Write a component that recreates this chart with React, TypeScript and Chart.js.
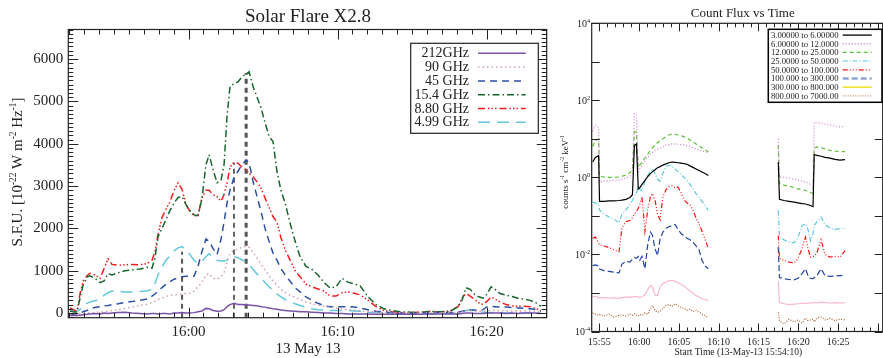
import React, { useEffect, useRef } from 'react';
import { Chart, registerables } from 'chart.js';
Chart.register(...registerables);

const SERIF = '"Liberation Serif", "DejaVu Serif", "Times New Roman", serif';
const INK = '#222';

// ---------------- Left panel: radio flux (S.F.U.) ----------------
const radioTitle = 'Solar Flare X2.8';
const radioDateLabel = '13 May 13';
const radioXRange = ['15:51:56', '16:24:02'];
const radioYRange = [-110, 6700];
const radioXTicks = ['16:00', '16:10', '16:20'];
const radioYTicks = [0, 1000, 2000, 3000, 4000, 5000, 6000];

const radioTimes = [
  '15:52:03', '15:52:15', '15:52:31', '15:52:43', '15:52:55', '15:53:11', '15:53:23', '15:53:43', '15:54:04', '15:54:20',
  '15:54:36', '15:54:52', '15:55:16', '15:55:44', '15:56:12', '15:56:45', '15:57:13', '15:57:33', '15:57:45', '15:57:57',
  '15:58:13', '15:58:29', '15:58:45', '15:59:02', '15:59:18', '15:59:34', '15:59:50', '16:00:06', '16:00:22', '16:00:38',
  '16:00:54', '16:01:10', '16:01:23', '16:01:39', '16:01:55', '16:02:11', '16:02:23', '16:02:35', '16:02:47', '16:03:03',
  '16:03:19', '16:03:35', '16:03:52', '16:04:04', '16:04:20', '16:04:36', '16:04:52', '16:05:08', '16:05:24', '16:05:40',
  '16:05:56', '16:06:12', '16:06:29', '16:06:49', '16:07:09', '16:07:29', '16:07:53', '16:08:17', '16:08:41', '16:09:06',
  '16:09:30', '16:09:54', '16:10:18', '16:10:42', '16:11:06', '16:11:31', '16:12:03', '16:12:35', '16:13:07', '16:13:39',
  '16:14:12', '16:14:52', '16:15:32', '16:16:12', '16:16:53', '16:17:33', '16:18:05', '16:18:21', '16:18:37', '16:18:54',
  '16:19:10', '16:19:26', '16:19:46', '16:20:02', '16:20:18', '16:20:34', '16:20:54', '16:21:19', '16:21:43', '16:22:07',
  '16:22:31', '16:22:55', '16:23:19', '16:23:39',
];

const flux212GHz = [
  -60, -50, -60, -50, -40, -30, -20, -10, -20, 0,
  -10, 0, 10, 20, 0, -10, -20, -10, -10, -20,
  -10, -10, -20, 0, 0, 10, 0, 0, 10, 30,
  50, 110, 100, 60, 40, 50, 80, 150, 200, 230,
  200, 200, 190, 190, 180, 170, 150, 140, 120, 100,
  90, 70, 60, 50, 40, 30, 30, 20, 10, 0,
  0, -10, -10, -20, -20, -20, -20, -30, -30, -30,
  -20, -30, -30, -20, -20, -20, -20, -10, 0, 0,
  -10, -10, -10, 0, 0, 0, 0, -10, 0, -10,
  0, 0, 0, -10,
];
const flux90GHz = [
  -30, -40, -30, -20, -10, 0, 0, 10, 20, 30,
  40, 60, 80, 110, 140, 180, 210, 250, 280, 320,
  350, 390, 420, 430, 440, 450, 460, 470, 520, 620,
  720, 900, 930, 820, 800, 850, 950, 1200, 1420, 1480,
  1520, 1550, 1580, 1550, 1430, 1300, 1150, 1020, 880, 760,
  660, 560, 480, 420, 370, 320, 260, 220, 190, 160,
  140, 120, 100, 80, 70, 50, 30, 20, 10, 0,
  0, 0, 0, 0, 0, 10, 20, 30, 60, 60,
  50, 40, 40, 50, 60, 60, 60, 50, 50, 50,
  50, 40, 30, 20,
];
const flux45GHz = [
  -30, -40, -20, 0, 30, 60, 100, 130, 150, 170,
  180, 200, 220, 250, 270, 300, 330, 400, 450, 520,
  600, 680, 740, 800, 830, 860, 870, 870, 870, 1100,
  1450, 1750, 1700, 1520, 1380, 1750, 2150, 2600, 2900, 3200,
  3350, 3500, 3620, 3550, 3100, 2750, 2400, 2000, 1700, 1420,
  1250, 1050, 900, 750, 600, 500, 380, 300, 230, 170,
  150, 150, 150, 150, 140, 120, 80, 40, 20, 10,
  0, 0, 0, 10, 10, 10, 20, 40, 60, 70,
  70, 60, 80, 150, 160, 150, 140, 140, 130, 120,
  110, 100, 80, 40,
];
const flux15_4GHz = [
  50, 30, 20, 350, 650, 850, 880, 820, 720, 760,
  930, 900, 950, 1000, 1020, 1040, 1080, 1060, 1300, 1800,
  2000, 2200, 2420, 2600, 2730, 2750, 2560, 2420, 2320, 2300,
  2700, 3500, 3740, 3380, 3080, 3150, 3500, 4640, 5350, 5420,
  5460, 5580, 5650, 5700, 5350, 5100, 4850, 4500, 4180, 4050,
  3350, 2900, 2600, 2120, 1700, 1330, 1100, 1030, 900, 720,
  590, 620, 820, 730, 690, 640, 380, 200, 100, 60,
  30, 20, 10, 40, 30, 40, 150, 300, 600, 560,
  450, 390, 350, 450, 620, 560, 460, 420, 390, 350,
  330, 300, 240, 160,
];
const flux8_80GHz = [
  120, 80, 40, 450, 750, 880, 940, 900, 820, 1050,
  1280, 1150, 1130, 1140, 1150, 1140, 1170, 1250, 1450, 1850,
  2250, 2450, 2620, 2900, 3080, 2920, 2560, 2400, 2300, 2300,
  2720, 2900, 2900, 2800, 2750, 2640, 2800, 3070, 3450, 3560,
  3540, 3450, 3380, 3300, 3220, 3100, 2950, 2720, 2500, 2280,
  2150, 1780, 1500, 1250, 1000, 860, 680, 620, 570, 520,
  400, 400, 480, 500, 470, 430, 300, 150, 60, 30,
  10, 10, 20, 40, 20, 50, 150, 350, 460, 400,
  330, 250, 200, 280, 380, 330, 260, 200, 170, 160,
  160, 150, 100, 60,
];
const flux4_99GHz = [
  50, 40, 40, 80, 180, 230, 260, 290, 330, 420,
  480, 520, 510, 500, 500, 510, 520, 560, 700, 900,
  1080, 1250, 1350, 1470, 1540, 1570, 1480, 1380, 1250, 1180,
  1230, 1330, 1400, 1330, 1250, 1230, 1230, 1250, 1300, 1330,
  1310, 1260, 1200, 1150, 1030, 920, 830, 720, 620, 540,
  450, 380, 320, 270, 220, 180, 140, 100, 80, 70,
  60, 60, 60, 60, 50, 40, 20, 10, 0, -10,
  -20, -20, -20, -20, -20, -10, 0, 20, 60, 70,
  60, 40, 20, 10, 10, 10, 10, 0, 0, 0,
  0, 0, 0, -10,
];

const radioNames = ['212GHz', '90 GHz', '45 GHz', '15.4 GHz', '8.80 GHz', '4.99 GHz'];
const radioSeries = [flux212GHz, flux90GHz, flux45GHz, flux15_4GHz, flux8_80GHz, flux4_99GHz];
const radioColors = ['#7a52a8', '#d7a0a6', '#2b50a6', '#17652c', '#f31c1c', '#62c6e0'];
const radioDashes = [[], [1.5, 3], [7, 5], [7, 3, 1.5, 3], [7, 3, 1.5, 2, 1.5, 2, 1.5, 3], [12, 7]];

// vertical dashed markers
const markerTimes = ['15:59:34', '16:03:03', '16:03:52'];
const markerTops = [1450, 3550, 5670];
const markerColors = ['#555', '#111', '#555'];
const markerWidths = [2, 1.3, 3];

// ---------------- Right panel: count flux (log) ----------------
const countTitle = 'Count Flux vs Time';
const countXLabel = 'Start Time (13-May-13 15:54:10)';
const countXRange = ['15:54:03', '16:30:36'];
const countXTicks = ['15:55', '16:00', '16:05', '16:10', '16:15', '16:20', '16:25'];
const countYExpRange = [-4, 4];
const countYLabelExps = [4, 2, 0, -2, -4];

const countTimes = [
  '15:54:10', '15:54:31', '15:54:55',
  '15:55:02', '15:55:35', '15:56:13', '15:56:51', '15:57:29', '15:57:51', '15:58:21', '15:58:51', '15:59:10', '15:59:25',
  '15:59:40', '15:59:54', '16:00:05', '16:00:22', '16:00:44', '16:01:07', '16:01:26', '16:01:41', '16:02:00', '16:02:19',
  '16:02:38', '16:03:00', '16:03:23', '16:03:45', '16:04:08', '16:04:31', '16:04:53', '16:05:16', '16:05:38', '16:06:01',
  '16:06:24', '16:06:46', '16:07:09', '16:07:32', '16:07:54', '16:08:17', '16:08:42',
  '16:12:00',
  '16:17:29', '16:17:38', '16:18:12', '16:18:50', '16:19:28', '16:19:58', '16:20:28', '16:20:54', '16:21:13', '16:21:32',
  '16:21:51', '16:22:00', '16:22:21', '16:22:51', '16:23:21', '16:23:59', '16:24:37', '16:25:14', '16:25:52',
];

// log10 of counts s^-1 cm^-2 keV^-1 (null = no data)
const log3to6 = [
  0.40, 0.52, 0.57,
  -0.62, -0.62, -0.61, -0.61, -0.60, -0.59, -0.57, -0.52, -0.45, 0.83, 0.87, -0.30, -0.27, -0.18, -0.08, 0.03, 0.10, 0.15,
  0.20, 0.25, 0.28, 0.32, 0.35, 0.38, 0.40, 0.39, 0.38, 0.37, 0.36, 0.34, 0.30, 0.26, 0.22, 0.18, 0.14, 0.10, 0.05,
  null,
  0.40, -0.57, -0.60, -0.62, -0.64, -0.66, -0.68, -0.69, -0.71, -0.73, -0.76, 0.59, 0.57, 0.55, 0.52, 0.50, 0.47, 0.45, 0.46,
];
const log6to12 = [
  1.20, 1.35, 1.30,
  -0.12, -0.10, -0.09, -0.08, -0.06, -0.04, -0.02, 0.03, 0.10, 1.65, 1.65, 0.15, 0.22, 0.32, 0.43, 0.53, 0.60, 0.65,
  0.70, 0.73, 0.76, 0.80, 0.83, 0.85, 0.87, 0.87, 0.86, 0.85, 0.84, 0.82, 0.80, 0.77, 0.74, 0.71, 0.69, 0.67, 0.65,
  null,
  1.00, 0.01, 0.00, -0.02, -0.05, -0.07, -0.10, -0.12, -0.15, -0.18, -0.21, 1.44, 1.43, 1.41, 1.38, 1.36, 1.33, 1.31, 1.32,
];
const log12to25 = [
  0.80, 0.95, 1.00,
  0.03, 0.01, 0.00, 0.00, 0.01, 0.03, 0.06, 0.12, 0.20, 1.18, 1.18, 0.25, 0.32, 0.40, 0.50, 0.61, 0.70, 0.77,
  0.84, 0.90, 0.95, 1.00, 1.06, 1.10, 1.13, 1.12, 1.10, 1.08, 1.06, 1.02, 0.97, 0.92, 0.87, 0.82, 0.77, 0.72, 0.66,
  null,
  0.83, -0.16, -0.20, -0.23, -0.26, -0.30, -0.32, -0.34, -0.36, -0.39, -0.42, 0.76, 0.79, 0.77, 0.74, 0.70, 0.68, 0.67, 0.67,
];
const log25to50 = [
  -0.64, -0.66, -0.70,
  -0.85, -0.95, -1.03, -1.08, -1.18, -0.95, -0.85, -0.70, -0.60, -0.50, -0.40, -0.22, -0.30, -0.35, -0.10, 0.05, 0.18, 0.22,
  0.10, -0.05, -0.10, 0.12, 0.28, 0.32, 0.28, 0.22, 0.15, 0.08, 0.00, -0.08, -0.18, -0.30, -0.42, -0.52, -0.62, -0.73, -0.86,
  null,
  -0.86, -1.55, -1.62, -1.68, -1.70, -1.55, -1.25, -1.20, -1.35, -1.65, -1.45, -1.25, -1.15, -1.03, -1.22, -1.32, -1.35, -1.33, -1.32,
];
const log50to100 = [
  -1.58, -1.55, -1.70,
  -1.75, -1.78, -1.82, -1.88, -1.93, -1.30, -1.15, -1.12, -1.05, -0.95, -0.88, -0.80, -0.70, -0.50, -1.40, -0.80, -0.50, -0.42,
  -0.60, -0.95, -1.10, -0.50, -0.32, -0.24, -0.22, -0.27, -0.25, -0.40, -0.58, -0.66, -0.72, -0.85, -1.05, -1.20, -1.40, -1.60, -1.85,
  null,
  -1.51, -2.10, -2.15, -2.20, -2.22, -2.10, -1.85, -1.55, -1.85, -2.07, -2.05, -2.05, -1.95, -1.62, -2.00, -2.07, -2.05, -2.07, -1.90,
];
const log100to300 = [
  -2.29, -2.27, -2.30,
  -2.38, -2.42, -2.44, -2.46, -2.48, -2.25, -2.18, -2.20, -2.12, -2.08, -2.10, -2.05, -2.15, -2.05, -2.37, -1.70, -1.42, -1.50,
  -1.85, -2.03, -1.60, -1.42, -1.32, -1.28, -1.25, -1.22, -1.35, -1.45, -1.52, -1.58, -1.62, -1.68, -1.78, -1.88, -2.15, -2.30, -2.37,
  null,
  -1.81, -2.60, -2.63, -2.65, -2.66, -2.62, -2.50, -2.37, -2.55, -2.62, -2.63, -2.60, -2.55, -2.37, -2.55, -2.57, -2.56, -2.55, -2.54,
];
const log300to800 = [
  -3.10, -3.08, -3.12,
  -3.12, -3.12, -3.13, -3.12, -3.14, -3.12, -3.11, -3.10, -3.11, -3.09, -3.10, -3.10, -3.12, -3.10, -3.05, -2.90, -2.80, -2.85,
  -3.05, -3.07, -2.85, -2.75, -2.72, -2.68, -2.67, -2.70, -2.73, -2.78, -2.82, -2.88, -2.95, -3.00, -3.07, -3.10, -3.15, -3.17, -3.20,
  null,
  -2.70, -3.25, -3.28, -3.30, -3.29, -3.28, -3.27, -3.26, -3.27, -3.26, -3.25, -3.25, -3.26, -3.24, -3.25, -3.26, -3.25, -3.26, -3.25,
];
const log800to7000 = [
  -3.52, -3.55, -3.58,
  -3.56, -3.60, -3.55, -3.62, -3.58, -3.57, -3.60, -3.55, -3.58, -3.54, -3.57, -3.60, -3.56, -3.58, -3.52, -3.55, -3.40, -3.33,
  -3.45, -3.50, -3.48, -3.40, -3.32, -3.30, -3.35, -3.28, -3.33, -3.38, -3.40, -3.45, -3.42, -3.48, -3.45, -3.50, -3.55, -3.58, -3.65,
  null,
  -3.50, -3.72, -3.80, -3.68, -3.75, -3.70, -3.78, -3.65, -3.72, -3.70, -3.68, -3.75, -3.65, -3.62, -3.70, -3.66, -3.72, -3.68, -3.70,
];

const countNames = [
  '3.00000 to 6.00000', '6.00000 to 12.0000', '12.0000 to 25.0000', '25.0000 to 50.0000',
  '50.0000 to 100.000', '100.000 to 300.000', '300.000 to 800.000', '800.000 to 7000.00',
];
const countSeries = [log3to6, log6to12, log12to25, log25to50, log50to100, log100to300, log300to800, log800to7000];
const countColors = ['#000000', '#d27ad6', '#5cbf34', '#5cc9de', '#ff1010', '#2444a4', '#f7b9c6', '#b4602e'];
const countLegendColors = ['#000000', '#d27ad6', '#5cbf34', '#a8e4ee', '#ff1010', '#8ea2d8', '#ece21c', '#c88a6a'];
const countDashes = [[], [1, 2], [4, 3], [5, 2, 1, 2], [5, 2, 1, 2, 1, 2, 1, 2], [6, 3], [], [1, 1.5]];
const countLegendWidths = [1.3, 1.3, 1.3, 2, 1.3, 2.5, 1.5, 1.3];

// ---------------- helpers ----------------
const toMin = (t: string) => {
  const [h, m, s] = t.split(':').map(Number);
  return h * 60 + m + (s || 0) / 60;
};
const fmtHM = (v: number) => {
  const h = Math.floor(v / 60 + 1e-9);
  const m = Math.round(v - h * 60);
  return `${h}:${String(m).padStart(2, '0')}`;
};

type Part = [string, boolean];
function drawRich(ctx: CanvasRenderingContext2D, parts: Part[], x: number, y: number, size: number,
  align: 'left' | 'center' | 'right', rotate = false) {
  ctx.save();
  ctx.fillStyle = INK;
  ctx.textBaseline = 'alphabetic';
  ctx.textAlign = 'left';
  const supSize = size * 0.62;
  const widths = parts.map(([t, sup]) => {
    ctx.font = `${sup ? supSize : size}px ${SERIF}`;
    return ctx.measureText(t).width;
  });
  const total = widths.reduce((a, b) => a + b, 0);
  ctx.translate(x, y);
  if (rotate) ctx.rotate(-Math.PI / 2);
  let cx = align === 'center' ? -total / 2 : align === 'right' ? -total : 0;
  parts.forEach(([t, sup], i) => {
    ctx.font = `${sup ? supSize : size}px ${SERIF}`;
    ctx.fillText(t, cx, sup ? -size * 0.42 : 0);
    cx += widths[i];
  });
  ctx.restore();
}

function leftConfig(): any {
  const datasets: any[] = radioSeries.map((vals, i) => ({
    label: radioNames[i],
    data: radioTimes.map((t, j) => ({ x: toMin(t), y: vals[j] })),
    borderColor: radioColors[i],
    borderWidth: 1.5,
    borderDash: radioDashes[i],
    pointRadius: 0,
    fill: false,
    tension: 0,
  }));
  markerTimes.forEach((t, i) => {
    datasets.push({
      label: 'marker' + i,
      data: [{ x: toMin(t), y: radioYRange[0] }, { x: toMin(t), y: markerTops[i] }],
      borderColor: markerColors[i],
      borderWidth: markerWidths[i],
      borderDash: [5, 4],
      pointRadius: 0,
      fill: false,
    });
  });

  const decor = {
    id: 'leftDecor',
    afterDraw(chart: any) {
      const { ctx, chartArea: a, scales } = chart;
      const xs = scales.x, ys = scales.y;
      ctx.save();
      ctx.strokeStyle = INK;
      ctx.lineWidth = 1.2;
      ctx.strokeRect(a.left, a.top, a.right - a.left, a.bottom - a.top);
      ctx.lineWidth = 1;
      ctx.beginPath();
      for (let m = Math.ceil(xs.min); m <= xs.max; m++) {
        const px = Math.round(xs.getPixelForValue(m)) + 0.5;
        const len = m % 10 === 0 ? 10 : 5;
        ctx.moveTo(px, a.bottom); ctx.lineTo(px, a.bottom - len);
        ctx.moveTo(px, a.top); ctx.lineTo(px, a.top + len);
      }
      for (let v = Math.ceil(ys.min / 100) * 100; v <= ys.max; v += 100) {
        const py = Math.round(ys.getPixelForValue(v)) + 0.5;
        const len = v % 1000 === 0 ? 10 : 5;
        ctx.moveTo(a.left, py); ctx.lineTo(a.left + len, py);
        ctx.moveTo(a.right, py); ctx.lineTo(a.right - len, py);
      }
      ctx.stroke();

      // title and axis titles
      ctx.fillStyle = INK;
      ctx.textAlign = 'center';
      ctx.textBaseline = 'alphabetic';
      ctx.font = `19px ${SERIF}`;
      ctx.fillText(radioTitle, 308, 21.5);
      ctx.font = `15px ${SERIF}`;
      ctx.fillText(radioDateLabel, 308, 353);
      drawRich(ctx, [['S.F.U. [10', false], ['-22', true], [' W m', false], ['-2', true], [' Hz', false], ['-1', true], [']', false]],
        22, 172, 15, 'center', true);

      // legend
      const bx = a.right - 136, by = a.top + 13.8, bw = 127.6, bh = 90;
      ctx.fillStyle = '#fff';
      ctx.fillRect(bx, by, bw, bh);
      ctx.strokeStyle = INK;
      ctx.lineWidth = 1.2;
      ctx.strokeRect(bx, by, bw, bh);
      ctx.font = `14px ${SERIF}`;
      ctx.textAlign = 'right';
      ctx.textBaseline = 'middle';
      radioNames.forEach((name, i) => {
        const ry = by + 10 + i * 13.8;
        ctx.fillStyle = INK;
        ctx.fillText(name, bx + 58.3, ry + 0.5);
        ctx.save();
        ctx.strokeStyle = radioColors[i];
        ctx.lineWidth = 1.5;
        ctx.setLineDash(radioDashes[i]);
        ctx.beginPath();
        ctx.moveTo(bx + 67.3, ry); ctx.lineTo(bx + 115, ry);
        ctx.stroke();
        ctx.restore();
      });
      ctx.restore();
    },
  };

  return {
    type: 'line',
    data: { datasets },
    plugins: [decor],
    options: {
      responsive: false,
      animation: false,
      events: [],
      layout: { padding: { left: 0, top: 29.5, right: 13.3, bottom: 0 } },
      plugins: { legend: { display: false }, tooltip: { enabled: false }, title: { display: false } },
      scales: {
        x: {
          type: 'linear',
          min: toMin(radioXRange[0]),
          max: toMin(radioXRange[1]),
          grid: { display: false, drawTicks: false },
          border: { display: false },
          afterBuildTicks: (s: any) => { s.ticks = radioXTicks.map((t) => ({ value: toMin(t) })); },
          afterFit: (s: any) => { s.height = 358 - 317.7; },
          ticks: {
            autoSkip: false, maxRotation: 0, padding: 5, color: INK,
            font: { family: SERIF, size: 15 },
            callback: (v: number) => fmtHM(v),
          },
        },
        y: {
          type: 'linear',
          min: radioYRange[0],
          max: radioYRange[1],
          grid: { display: false, drawTicks: false },
          border: { display: false },
          afterBuildTicks: (s: any) => { s.ticks = radioYTicks.map((v) => ({ value: v })); },
          afterFit: (s: any) => { s.width = 68.3; },
          ticks: {
            padding: 5, color: INK,
            font: { family: SERIF, size: 15 },
            callback: (v: number) => String(v),
          },
        },
      },
    },
  };
}

function rightConfig(): any {
  const datasets: any[] = countSeries.map((vals, i) => ({
    label: countNames[i],
    data: countTimes.map((t, j) => ({ x: toMin(t), y: vals[j] == null ? null : Math.pow(10, vals[j] as number) })),
    borderColor: countColors[i],
    borderWidth: 1.2,
    borderDash: countDashes[i],
    pointRadius: 0,
    fill: false,
    tension: 0,
    spanGaps: false,
  }));

  const decor = {
    id: 'rightDecor',
    afterDraw(chart: any) {
      const { ctx, chartArea: a, scales } = chart;
      const xs = scales.x, ys = scales.y;
      ctx.save();
      ctx.strokeStyle = INK;
      ctx.lineWidth = 1.2;
      ctx.strokeRect(a.left, a.top, a.right - a.left, a.bottom - a.top);
      ctx.lineWidth = 1;
      ctx.beginPath();
      for (let m = Math.ceil(xs.min); m <= xs.max; m++) {
        const px = Math.round(xs.getPixelForValue(m)) + 0.5;
        const len = m % 5 === 0 ? 8 : 4;
        ctx.moveTo(px, a.bottom); ctx.lineTo(px, a.bottom - len);
        ctx.moveTo(px, a.top); ctx.lineTo(px, a.top + len);
      }
      for (let e = countYExpRange[0]; e <= countYExpRange[1]; e++) {
        const py = Math.round(ys.getPixelForValue(Math.pow(10, e))) + 0.5;
        ctx.moveTo(a.left, py); ctx.lineTo(a.left + 8, py);
        ctx.moveTo(a.right, py); ctx.lineTo(a.right - 8, py);
      }
      ctx.stroke();

      // y tick labels (10^n)
      countYLabelExps.forEach((e) => {
        const py = ys.getPixelForValue(Math.pow(10, e));
        drawRich(ctx, [['10', false], [String(e), true]], a.left - 1.5, py + 3.4, 10, 'right');
      });

      // titles
      ctx.fillStyle = INK;
      ctx.textAlign = 'center';
      ctx.textBaseline = 'alphabetic';
      ctx.font = `13px ${SERIF}`;
      ctx.fillText(countTitle, 182.8, 16.7);
      ctx.font = `9.5px ${SERIF}`;
      ctx.fillText(countXLabel, 178.3, 355);
      drawRich(ctx, [['counts s', false], ['-1', true], [' cm', false], ['-2', true], [' keV', false], ['-1', true]],
        8, 172, 9, 'center', true);

      // legend
      const bw = 113.7, bh = 73;
      const bx = a.right - 0.7 - bw, by = a.top + 6;
      ctx.fillStyle = '#fff';
      ctx.fillRect(bx, by, bw, bh);
      ctx.strokeStyle = '#000';
      ctx.lineWidth = 1.5;
      ctx.strokeRect(bx, by, bw, bh);
      ctx.font = `8.7px ${SERIF}`;
      ctx.textAlign = 'left';
      ctx.textBaseline = 'middle';
      countNames.forEach((name, i) => {
        const ry = by + 5.8 + i * 8.67;
        ctx.fillStyle = INK;
        ctx.fillText(name, bx + 2.6, ry + 0.5);
        ctx.save();
        ctx.strokeStyle = countLegendColors[i];
        ctx.lineWidth = countLegendWidths[i];
        ctx.setLineDash(countDashes[i]);
        ctx.beginPath();
        ctx.moveTo(bx + 74.4, ry); ctx.lineTo(bx + 103.4, ry);
        ctx.stroke();
        ctx.restore();
      });
      ctx.restore();
    },
  };

  return {
    type: 'line',
    data: { datasets },
    plugins: [decor],
    options: {
      responsive: false,
      animation: false,
      events: [],
      spanGaps: false,
      layout: { padding: { left: 0, top: 23.3, right: 0.3, bottom: 0 } },
      plugins: { legend: { display: false }, tooltip: { enabled: false }, title: { display: false } },
      scales: {
        x: {
          type: 'linear',
          min: toMin(countXRange[0]),
          max: toMin(countXRange[1]),
          grid: { display: false, drawTicks: false },
          border: { display: false },
          afterBuildTicks: (s: any) => { s.ticks = countXTicks.map((t) => ({ value: toMin(t) })); },
          afterFit: (s: any) => { s.height = 358 - 331.5; },
          ticks: {
            autoSkip: false, maxRotation: 0, padding: 4.5, color: INK,
            font: { family: SERIF, size: 10 },
            callback: (v: number) => fmtHM(v),
          },
        },
        y: {
          type: 'logarithmic',
          min: Math.pow(10, countYExpRange[0]),
          max: Math.pow(10, countYExpRange[1]),
          grid: { display: false, drawTicks: false },
          border: { display: false },
          afterFit: (s: any) => { s.width = 31.7; },
          ticks: { display: false },
        },
      },
    },
  };
}

export default function App() {
  const leftRef = useRef<HTMLCanvasElement>(null);
  const rightRef = useRef<HTMLCanvasElement>(null);
  useEffect(() => {
    const c1 = new Chart(leftRef.current as HTMLCanvasElement, leftConfig());
    const c2 = new Chart(rightRef.current as HTMLCanvasElement, rightConfig());
    return () => { c1.destroy(); c2.destroy(); };
  }, []);
  return (
    <div style={{ position: 'absolute', left: 0, top: 0, width: 883, height: 358, background: '#fff', overflow: 'hidden' }}>
      <canvas ref={leftRef} width={560} height={358}
        style={{ position: 'absolute', left: 0, top: 0, width: 560, height: 358 }} />
      <canvas ref={rightRef} width={323} height={358}
        style={{ position: 'absolute', left: 560, top: 0, width: 323, height: 358 }} />
    </div>
  );
}
